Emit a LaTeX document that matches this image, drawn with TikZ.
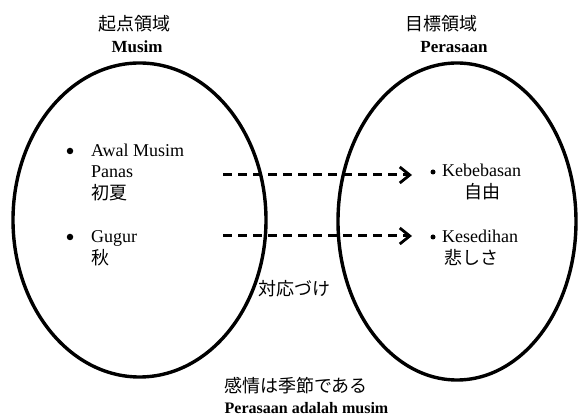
\documentclass[tikz,border=0pt]{standalone}
\usepackage{fontspec}
\setmainfont{Liberation Serif}
\newfontfamily\cjk{Noto Sans CJK JP}
\usetikzlibrary{arrows.meta}
\begin{document}
\begin{tikzpicture}[x=1pt,y=-1pt,
  domainline/.style={draw=black,line width=3.4pt},
  lat/.style={inner sep=0pt,font=\fontsize{18}{20}\selectfont},
  latb/.style={inner sep=0pt,font=\fontsize{17}{19}\selectfont\bfseries},
  jp/.style={inner sep=0pt,font=\fontsize{18}{20}\selectfont\cjk},
  dot/.style={fill=black,circle,inner sep=0pt,minimum size=#1},
  maparrow/.style={line width=3pt,dash pattern=on 9pt off 6pt,
     -{Straight Barb[length=10pt,width=16pt,line width=2.8pt]}}]
\useasboundingbox (0,0) rectangle (579,419);
% domains
\draw[domainline] (139.5,220) ellipse [x radius=126.5, y radius=157];
\draw[domainline] (457,221.5) ellipse [x radius=119, y radius=158.5];
% headings
\node[jp,anchor=base] (srcj) at (134,31) {起点領域};
\node[latb,anchor=base] (srcl) at (137,53) {Musim};
\node[jp,anchor=base] (tgtj) at (441,31) {目標領域};
\node[latb,anchor=base] (tgtl) at (454,53) {Perasaan};
% left items
\node[dot=6.5pt] (b1) at (70,151) {};
\node[lat,anchor=base west] (s1a) at (91,157) {Awal Musim};
\node[lat,anchor=base west] (s1b) at (91,178) {Panas};
\node[jp,anchor=base west] (s1c) at (91,200) {初夏};
\node[dot=6.5pt] (b2) at (70,237) {};
\node[lat,anchor=base west] (s2a) at (91,243) {Gugur};
\node[jp,anchor=base west] (s2b) at (91,265) {秋};
% right items
\node[dot=5pt] (b3) at (433,172) {};
\node[lat,anchor=base west] (t1a) at (442,177) {Kebebasan};
\node[jp,anchor=base] (t1b) at (482,198.5) {自由};
\node[dot=5pt] (b4) at (433,237) {};
\node[lat,anchor=base west] (t2a) at (442,243) {Kesedihan};
\node[jp,anchor=base west] (t2b) at (444,265) {悲しさ};
% mapping
\coordinate (m1s) at (223,175);
\coordinate (m1e) at (412,175);
\coordinate (m2s) at (223,236);
\coordinate (m2e) at (412,236);
\draw[maparrow] (m1s) -- (m1e);
\draw[maparrow] (m2s) -- (m2e);
\node[jp,anchor=base west] (map) at (258,296) {対応づけ};
% caption
\node[jp,anchor=base] (capj) at (296,393) {感情は季節である};
\node[latb,anchor=base,font=\fontsize{16}{18}\selectfont\bfseries] (capl) at (306.5,414) {Perasaan adalah musim};
\end{tikzpicture}
\end{document}
